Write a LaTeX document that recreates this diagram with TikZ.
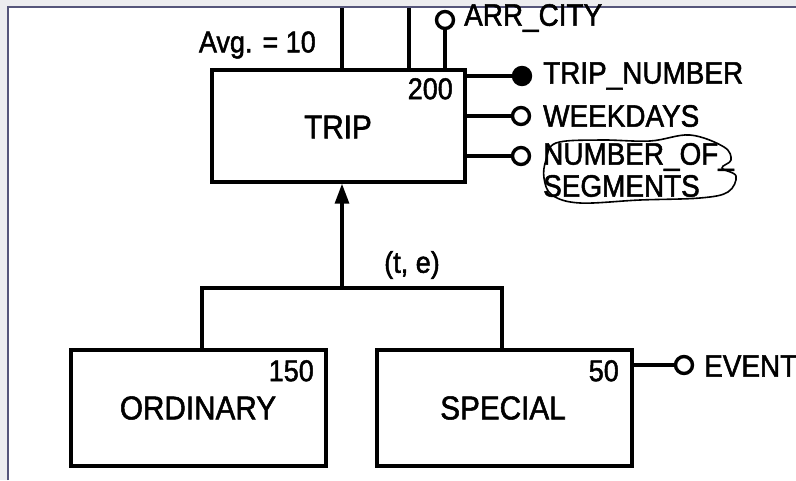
\documentclass[tikz,border=0pt]{standalone}
\usepackage{fontspec}
\setmainfont[FakeStretch=0.9, FakeBold=1.6]{Liberation Sans}
\usetikzlibrary{arrows.meta}
\definecolor{framec}{HTML}{55557A}
\definecolor{outside}{HTML}{ECECEF}
\tikzset{
  ent/.style={draw, line width=3.4pt, inner sep=0pt},
  link/.style={line width=3.2pt},
  attr/.style={circle, draw, line width=3.4pt, fill=white, inner sep=0pt, minimum size=17pt},
  keyattr/.style={attr, fill=black},
  lbl/.style={anchor=west, inner sep=0pt, font=\fontsize{31}{32}\selectfont},
  big/.style={font=\fontsize{33}{35}\selectfont},
  num/.style={font=\fontsize{30}{32}\selectfont, inner sep=0pt},
}
\begin{document}
\begin{tikzpicture}[x=1pt,y=-1pt]
\useasboundingbox (0,0) rectangle (796,480);
\fill[outside] (0,0) rectangle (796,480);
\fill[white] (8,7) rectangle (796,480);
\draw[framec, line width=2.4pt] (8,480) -- (8,7) -- (796,7);

% entities
\node[ent, minimum width=253pt, minimum height=112pt] (trip) at (338.5,126) {};
\node[big] (triplbl) at (338,127) {TRIP};
\node[num, anchor=north east] (tripn) at (453,78) {200};

\node[ent, minimum width=255pt, minimum height=116pt] (ord) at (198.5,408) {};
\node[big] (ordlbl) at (198,408) {ORDINARY};
\node[num, anchor=north east] (ordn) at (314,360) {150};

\node[ent, minimum width=255pt, minimum height=116pt] (spc) at (504.5,408) {};
\node[big] (spclbl) at (503,408) {SPECIAL};
\node[num, anchor=north east] (spcn) at (619,360) {50};

% upper links
\coordinate (up1) at (342,8);
\coordinate (up2) at (409,8);
\draw[link] (trip.north -| up1) -- (up1);
\draw[link] (trip.north -| up2) -- (up2);
\node[attr] (arr) at (445,20) {};
\draw[link] (trip.north -| arr) -- (arr);
\node[lbl] (arrl) at (464,18) {ARR\_CITY};
\node[num, anchor=east] (avg) at (316,45) {Avg. = 10};

% attributes of TRIP
\node[keyattr] (tn) at (522,76) {};
\node[attr] (wd) at (521,116) {};
\node[attr] (ns) at (521,156) {};
\draw[link] (trip.east |- tn) -- (tn);
\draw[link] (trip.east |- wd) -- (wd);
\draw[link] (trip.east |- ns) -- (ns);
\node[lbl] (tnl) at (543,76) {TRIP\_NUMBER};
\node[lbl] (wdl) at (543,116) {WEEKDAYS};
\node[lbl, align=left] (nsl) at (543,170) {NUMBER\_OF\_\\SEGMENTS};
\draw[line width=1.6pt] plot[smooth cycle, tension=0.6] coordinates {
  (546,160) (556,143) (600,140) (650,141) (690,135) (724,147) (731,160)
  (722,168) (736,176) (728,192) (700,198) (640,200) (580,203) (552,195) (544,178)};

% generalization
\coordinate (gen) at (342,288);
\coordinate (gl) at (202,288);
\coordinate (gr) at (502,288);
\draw[link] (ord.north -| gl) -- (gl) -- (gr) -- (spc.north -| gr);
\draw[link, -{Triangle[length=20pt,width=14pt]}] (gen) -- (trip.south -| gen);
\node[num] (te) at (412,265) {(t, e)};

% EVENT
\node[attr] (ev) at (684,365) {};
\draw[link] (spc.east |- ev) -- (ev);
\node[lbl] (evl) at (704,366) {EVENT};
\end{tikzpicture}
\end{document}
